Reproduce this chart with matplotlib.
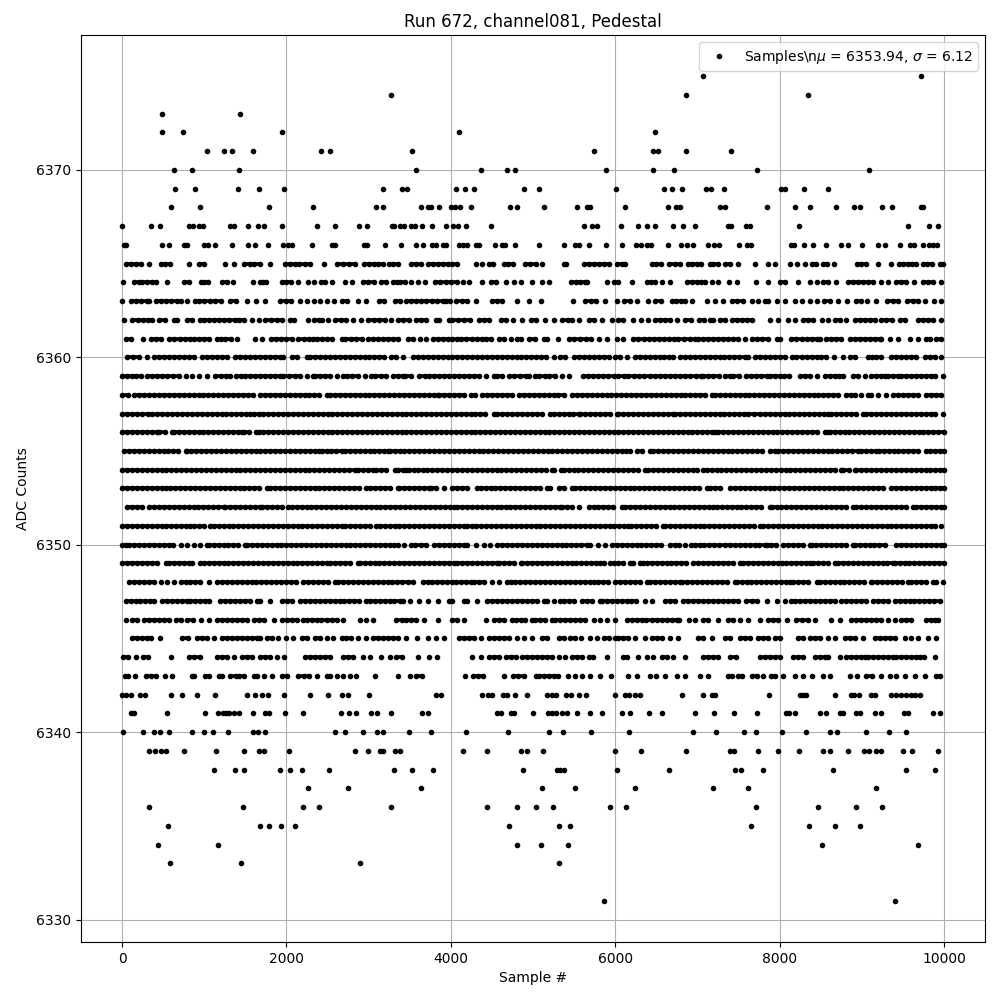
# -*- coding: utf-8 -*-
import numpy as np
import matplotlib
matplotlib.use("Agg")
import matplotlib.pyplot as plt

# sample numbers per ADC level
# rows above 6365 and below 6343 are single dots, the rows between overlap
# so there the values are estimates that follow the visible runs and gaps
adc_6375 = [7065, 9726]
adc_6374 = [3272, 6859, 8341]
adc_6373 = [485, 1430]
adc_6372 = [485, 739, 1951, 4097, 6482]
adc_6371 = [1030, 1236, 1333, 1588, 2424, 2533, 3527, 5741, 6458, 6518, 6859, 7405]
adc_6370 = [630, 848, 1418, 3575, 4363, 4678, 4775, 5887, 6458, 6713, 7721, 9094]
adc_6369 = [642, 885, 1406, 1660, 1976, 3175, 3406, 3466, 4060, 4177, 4278, 4896, 5073, 6008, 6591, 6688, 6810, 7101, 7162, 7320, 8021, 8069, 8292, 8584]
adc_6368 = [594, 945, 1782, 2327, 3091, 3175, 3636, 3721, 3757, 3854, 4000, 4048, 4109, 4242, 4715, 4800, 5134, 5534, 5656, 5692, 6117, 6640, 6737, 6786, 7272, 7332, 7843, 8183, 8365, 8681, 8912, 8985, 9252, 9374, 9726, 9742]
adc_6367 = [0, 351, 461, 812, 860, 933, 982, 1317, 1366, 1527, 1648, 1721, 1951, 2375, 2594, 2885, 2982, 3285, 3309, 3382, 3430, 3515, 3563, 3648, 3770, 3939, 4024, 4084, 4182, 4484, 5619, 5716, 5777, 6069, 6275, 6385, 6490, 6701, 6822, 6968, 7369, 7405, 7588, 7636, 8232, 9568, 9823, 9933]
adc_6366 = [24, 48, 485, 570, 751, 788, 994, 1042, 1127, 1333, 1527, 1612, 1770, 1964, 2024, 2073, 2315, 2557, 2590, 2945, 2982, 3200, 3394, 3575, 3660, 3770, 3818, 3903, 3939, 4097, 4145, 4194, 4303, 4339, 4537, 4622, 4658, 4787, 5073, 5377, 5510, 5559, 5680, 5887, 6081, 6251, 6312, 6385, 6433, 6640, 6798, 6871, 6944, 7126, 7199, 7260, 7503, 7600, 7648, 8134, 8171, 8292, 8402, 8560, 8742, 8827, 9009, 9203, 9288, 9470, 9592, 9640, 9750, 9823, 9872, 9920]
adc_6365 = [44, 105, 166, 226, 323, 469, 525, 582, 820, 933, 1002, 1256, 1357, 1479, 1551, 1608, 1673, 1794, 1984, 2045, 2105, 2154, 2226, 2291, 2460, 2618, 2690, 2760, 2832, 2941, 3000, 3060, 3115, 3175, 3248, 3300, 3357, 3519, 3580, 3640, 3721, 3780, 3840, 3900, 3960, 4020, 4080, 4307, 4380, 4468, 4517, 4650, 4699, 4751, 4900, 4965, 5035, 5109, 5372, 5405, 5615, 5680, 5740, 5800, 5860, 5920, 6020, 6080, 6120, 6445, 6500, 6555, 6660, 6730, 6790, 6883, 6930, 6992, 7045, 7154, 7195, 7255, 7336, 7397, 7500, 7700, 7863, 7944, 8126, 8211, 8308, 8390, 8438, 8531, 8572, 8657, 8948, 8997, 9058, 9192, 9362, 9451, 9503, 9564, 9612, 9657, 9746, 9799, 9860, 9949, 9989]
adc_6364 = [16, 145, 210, 246, 307, 360, 408, 545, 751, 820, 962, 1002, 1042, 1216, 1277, 1353, 1588, 1673, 1715, 1753, 1943, 2000, 2060, 2145, 2266, 2340, 2420, 2468, 2549, 2715, 2796, 2933, 2994, 3062, 3155, 3216, 3297, 3340, 3377, 3442, 3519, 3600, 3680, 3802, 3870, 3940, 4000, 4070, 4145, 4226, 4380, 4489, 4549, 4670, 4767, 4856, 4985, 5109, 5198, 5465, 5520, 5575, 5630, 5656, 5899, 5980, 6032, 6202, 6385, 6440, 6490, 6567, 6668, 6870, 6930, 6990, 7050, 7090, 7175, 7255, 7389, 7478, 7713, 7855, 8005, 8065, 8219, 8369, 8450, 8530, 8592, 8681, 8835, 8890, 8950, 9010, 9078, 9139, 9240, 9321, 9422, 9480, 9543, 9633, 9746, 9810, 9870, 9961]
adc_6363 = [0, 105, 170, 235, 300, 327, 408, 470, 530, 600, 670, 711, 790, 893, 933, 1000, 1070, 1135, 1204, 1317, 1380, 1519, 1632, 1741, 1923, 1990, 2060, 2165, 2246, 2335, 2410, 2489, 2578, 2670, 2740, 2872, 2974, 3127, 3192, 3325, 3382, 3455, 3515, 3575, 3640, 3700, 3770, 3830, 3900, 3940, 3988, 4061, 4130, 4200, 4311, 4505, 4565, 4626, 4808, 4953, 5095, 5487, 5636, 5700, 5770, 5880, 6020, 6109, 6180, 6262, 6400, 6490, 6557, 6687, 6736, 6800, 6850, 6939, 7113, 7214, 7316, 7417, 7478, 7550, 7660, 7740, 7822, 7862, 7964, 8065, 8194, 8275, 8369, 8461, 8543, 8611, 8713, 8826, 8936, 8988, 9061, 9178, 9312, 9380, 9442, 9555, 9620, 9680, 9766, 9875, 9968]
adc_6362 = [24, 125, 190, 250, 310, 368, 450, 520, 630, 670, 790, 850, 950, 1000, 1060, 1120, 1180, 1240, 1300, 1370, 1420, 1480, 1580, 1660, 1740, 1810, 1880, 1940, 2040, 2097, 2266, 2340, 2390, 2436, 2509, 2590, 2660, 2730, 2810, 2913, 2994, 3060, 3130, 3195, 3276, 3360, 3420, 3490, 3575, 3636, 3700, 3818, 3860, 3980, 4020, 4090, 4160, 4230, 4343, 4400, 4465, 4606, 4667, 4756, 4869, 4970, 5040, 5151, 5252, 5353, 5420, 5480, 5560, 5677, 5737, 5838, 5960, 6040, 6100, 6222, 6311, 6404, 6485, 6545, 6610, 6670, 6750, 6853, 6920, 7015, 7075, 7150, 7194, 7275, 7336, 7417, 7480, 7540, 7600, 7660, 7883, 7984, 8105, 8186, 8290, 8352, 8410, 8518, 8591, 8672, 8740, 8814, 8915, 8980, 9040, 9100, 9160, 9240, 9300, 9369, 9460, 9523, 9685, 9750, 9810, 9870, 9968]
adc_6361 = [44, 105, 255, 347, 410, 470, 570, 630, 700, 770, 832, 873, 940, 1000, 1060, 1155, 1204, 1256, 1320, 1398, 1620, 1700, 1810, 1870, 1930, 2000, 2064, 2145, 2210, 2270, 2327, 2367, 2430, 2490, 2560, 2670, 2711, 2780, 2850, 2920, 2994, 3054, 3115, 3175, 3240, 3300, 3360, 3478, 3535, 3620, 3700, 3780, 3840, 3900, 3960, 4020, 4081, 4121, 4190, 4260, 4320, 4384, 4424, 4485, 4586, 4646, 4727, 4808, 4848, 4950, 5020, 5131, 5171, 5300, 5434, 5500, 5570, 5640, 5700, 5799, 5899, 6020, 6100, 6222, 6283, 6345, 6410, 6470, 6530, 6590, 6650, 6710, 6770, 6840, 6910, 6971, 7010, 7073, 7130, 7190, 7250, 7310, 7370, 7430, 7490, 7579, 7660, 7720, 7790, 7862, 7964, 8004, 8134, 8206, 8270, 8330, 8390, 8450, 8490, 8571, 8632, 8690, 8750, 8854, 8915, 8980, 9040, 9100, 9160, 9219, 9239, 9340, 9442, 9584, 9685, 9786, 9827, 9908, 9968]
adc_6360 = [65, 130, 200, 307, 388, 450, 510, 570, 630, 690, 750, 810, 870, 974, 1034, 1095, 1160, 1216, 1277, 1378, 1440, 1500, 1560, 1620, 1680, 1741, 1800, 1860, 1923, 1964, 2064, 2130, 2246, 2287, 2350, 2410, 2470, 2530, 2590, 2650, 2710, 2770, 2830, 2890, 2950, 3010, 3070, 3130, 3190, 3276, 3337, 3420, 3535, 3600, 3660, 3720, 3780, 3840, 3900, 3960, 4020, 4080, 4140, 4200, 4260, 4320, 4380, 4440, 4500, 4560, 4620, 4680, 4740, 4800, 4860, 4920, 4980, 5040, 5100, 5160, 5252, 5333, 5394, 5495, 5560, 5620, 5680, 5740, 5800, 5860, 5920, 6000, 6060, 6140, 6242, 6300, 6360, 6420, 6480, 6540, 6600, 6660, 6700, 6790, 6853, 6910, 6970, 7030, 7090, 7150, 7210, 7270, 7330, 7390, 7450, 7510, 7579, 7620, 7700, 7760, 7822, 7883, 7950, 8010, 8070, 8146, 8206, 8270, 8330, 8390, 8450, 8510, 8571, 8660, 8774, 8855, 8915, 9077, 9130, 9178, 9239, 9361, 9420, 9480, 9540, 9604, 9665, 9766, 9830, 9890, 9968]
adc_6359 = [4, 60, 120, 170, 226, 307, 368, 430, 490, 550, 620, 691, 772, 850, 933, 1034, 1135, 1200, 1260, 1317, 1390, 1450, 1499, 1560, 1620, 1680, 1740, 1800, 1860, 1923, 1964, 2030, 2100, 2170, 2250, 2327, 2347, 2410, 2470, 2530, 2610, 2690, 2731, 2800, 2870, 2950, 3034, 3074, 3145, 3216, 3297, 3357, 3415, 3447, 3515, 3616, 3680, 3740, 3800, 3860, 3920, 3980, 4040, 4100, 4160, 4220, 4280, 4340, 4430, 4525, 4565, 4626, 4707, 4770, 4840, 4909, 4949, 5030, 5079, 5140, 5200, 5270, 5353, 5434, 5612, 5670, 5730, 5790, 5850, 5910, 5980, 6040, 6109, 6162, 6230, 6290, 6350, 6420, 6485, 6545, 6610, 6670, 6730, 6790, 6850, 6910, 6980, 7050, 7073, 7130, 7190, 7260, 7336, 7396, 7437, 7506, 7587, 7650, 7710, 7780, 7842, 7883, 7940, 8000, 8060, 8120, 8247, 8308, 8370, 8450, 8551, 8610, 8670, 8720, 8774, 8895, 8960, 9040, 9118, 9178, 9230, 9280, 9320, 9380, 9442, 9482, 9540, 9600, 9660, 9720, 9780, 9840, 9890, 9988]
adc_6358 = [0, 70, 150, 210, 270, 330, 390, 450, 510, 570, 630, 690, 750, 810, 870, 930, 990, 1050, 1110, 1170, 1230, 1290, 1350, 1410, 1470, 1530, 1590, 1680, 1741, 1800, 1860, 1920, 1980, 2040, 2100, 2160, 2220, 2280, 2340, 2400, 2490, 2530, 2590, 2650, 2710, 2770, 2830, 2890, 2950, 3010, 3070, 3130, 3190, 3250, 3310, 3370, 3430, 3490, 3550, 3610, 3670, 3730, 3790, 3838, 3860, 3920, 3980, 4040, 4100, 4160, 4242, 4291, 4384, 4445, 4505, 4565, 4625, 4685, 4747, 4828, 4890, 4950, 5010, 5070, 5130, 5190, 5250, 5310, 5373, 5475, 5535, 5595, 5655, 5715, 5775, 5835, 5895, 5955, 6015, 6075, 6135, 6195, 6255, 6315, 6375, 6435, 6495, 6555, 6615, 6675, 6735, 6795, 6855, 6915, 6975, 7035, 7095, 7174, 7214, 7274, 7334, 7394, 7454, 7514, 7574, 7634, 7694, 7754, 7814, 7874, 7934, 7994, 8054, 8114, 8174, 8234, 8294, 8354, 8414, 8474, 8534, 8591, 8652, 8712, 8814, 8875, 8915, 8996, 9077, 9118, 9199, 9300, 9381, 9440, 9503, 9563, 9623, 9683, 9786, 9847, 9908, 9968]
adc_6357 = [4, 65, 125, 186, 246, 310, 370, 430, 489, 550, 610, 670, 730, 790, 850, 910, 970, 1030, 1090, 1150, 1210, 1270, 1330, 1390, 1450, 1510, 1560, 1600, 1660, 1720, 1780, 1840, 1900, 1960, 2020, 2080, 2140, 2200, 2260, 2320, 2380, 2440, 2500, 2560, 2620, 2680, 2740, 2800, 2860, 2920, 2980, 3040, 3100, 3160, 3220, 3280, 3340, 3400, 3460, 3520, 3580, 3640, 3700, 3760, 3820, 3880, 3940, 4000, 4060, 4120, 4180, 4240, 4300, 4360, 4420, 4525, 4565, 4625, 4685, 4745, 4805, 4865, 4925, 4985, 5045, 5105, 5212, 5252, 5312, 5372, 5432, 5492, 5555, 5576, 5636, 5696, 5756, 5816, 5876, 5936, 6020, 6040, 6100, 6160, 6220, 6280, 6340, 6400, 6460, 6520, 6580, 6640, 6700, 6730, 6790, 6850, 6910, 6970, 7030, 7090, 7150, 7210, 7270, 7330, 7390, 7450, 7510, 7570, 7620, 7692, 7761, 7821, 7881, 7941, 8001, 8061, 8121, 8181, 8241, 8301, 8361, 8421, 8481, 8541, 8591, 8632, 8692, 8752, 8812, 8872, 8932, 9017, 9057, 9117, 9177, 9237, 9297, 9357, 9417, 9477, 9537, 9597, 9657, 9717, 9777, 9837, 9897, 9988]
adc_6356 = [0, 60, 120, 180, 240, 300, 360, 428, 450, 520, 610, 630, 690, 750, 810, 870, 930, 990, 1050, 1110, 1170, 1230, 1290, 1350, 1410, 1458, 1480, 1550, 1632, 1660, 1720, 1780, 1840, 1900, 1960, 2020, 2080, 2140, 2200, 2260, 2320, 2380, 2440, 2500, 2560, 2620, 2680, 2740, 2800, 2860, 2920, 2980, 3040, 3100, 3160, 3220, 3280, 3340, 3400, 3460, 3520, 3580, 3640, 3700, 3760, 3820, 3880, 3940, 4000, 4060, 4120, 4180, 4240, 4300, 4360, 4420, 4480, 4540, 4600, 4660, 4720, 4780, 4840, 4900, 4960, 5020, 5080, 5140, 5200, 5260, 5320, 5380, 5440, 5500, 5560, 5620, 5680, 5740, 5800, 5860, 5920, 5980, 6040, 6100, 6160, 6220, 6280, 6340, 6400, 6460, 6520, 6580, 6640, 6700, 6760, 6820, 6880, 6940, 7000, 7060, 7120, 7174, 7214, 7255, 7315, 7375, 7435, 7495, 7555, 7615, 7675, 7735, 7795, 7855, 7915, 7975, 8035, 8095, 8155, 8215, 8275, 8335, 8395, 8455, 8551, 8591, 8611, 8671, 8731, 8791, 8851, 8911, 8971, 9031, 9091, 9151, 9211, 9271, 9331, 9391, 9451, 9511, 9571, 9631, 9691, 9751, 9811, 9871, 9931, 9998]
adc_6355 = [24, 84, 144, 204, 264, 324, 384, 444, 504, 564, 624, 684, 772, 784, 844, 904, 964, 1024, 1084, 1144, 1204, 1264, 1324, 1384, 1444, 1504, 1564, 1624, 1684, 1744, 1804, 1864, 1924, 1984, 2044, 2104, 2164, 2224, 2284, 2344, 2390, 2428, 2488, 2548, 2608, 2670, 2711, 2771, 2831, 2891, 2951, 3011, 3071, 3131, 3191, 3236, 3256, 3316, 3376, 3436, 3496, 3556, 3616, 3677, 3737, 3797, 3857, 3917, 3977, 4037, 4097, 4157, 4217, 4277, 4337, 4397, 4457, 4517, 4577, 4637, 4697, 4757, 4817, 4877, 4937, 4997, 5057, 5117, 5177, 5237, 5297, 5357, 5417, 5477, 5537, 5597, 5657, 5717, 5777, 5837, 5897, 5957, 6017, 6077, 6137, 6182, 6262, 6330, 6424, 6465, 6525, 6585, 6645, 6705, 6767, 6827, 6887, 6947, 7007, 7067, 7127, 7187, 7247, 7307, 7367, 7427, 7487, 7547, 7607, 7667, 7727, 7787, 7883, 7940, 7984, 8044, 8104, 8164, 8224, 8284, 8344, 8404, 8464, 8524, 8584, 8644, 8704, 8764, 8824, 8884, 8956, 8996, 9056, 9116, 9178, 9207, 9267, 9327, 9387, 9447, 9507, 9567, 9627, 9687, 9786, 9827, 9887, 9947, 10000]
adc_6354 = [0, 60, 120, 180, 240, 300, 360, 420, 480, 540, 600, 660, 720, 780, 840, 900, 960, 1020, 1080, 1140, 1200, 1260, 1320, 1380, 1440, 1500, 1560, 1620, 1680, 1740, 1800, 1860, 1920, 1980, 2040, 2100, 2160, 2220, 2280, 2340, 2400, 2460, 2520, 2580, 2640, 2700, 2760, 2830, 2872, 2932, 2992, 3054, 3095, 3155, 3215, 3316, 3357, 3420, 3455, 3495, 3556, 3596, 3656, 3716, 3776, 3836, 3896, 3956, 4016, 4076, 4136, 4196, 4256, 4316, 4376, 4436, 4496, 4556, 4616, 4676, 4736, 4796, 4856, 4916, 4976, 5036, 5096, 5156, 5232, 5260, 5345, 5373, 5433, 5493, 5553, 5613, 5673, 5733, 5793, 5853, 5913, 5973, 6033, 6093, 6153, 6213, 6273, 6363, 6404, 6464, 6524, 6584, 6644, 6704, 6767, 6827, 6887, 6950, 6991, 7073, 7113, 7173, 7233, 7293, 7353, 7413, 7473, 7533, 7593, 7653, 7713, 7773, 7833, 7893, 7953, 8013, 8073, 8133, 8193, 8253, 8313, 8373, 8433, 8493, 8553, 8613, 8673, 8753, 8774, 8840, 8915, 8936, 8996, 9056, 9116, 9176, 9236, 9296, 9356, 9416, 9476, 9536, 9596, 9656, 9716, 9776, 9836, 9896, 9956, 9998]
adc_6353 = [0, 60, 120, 180, 240, 300, 360, 420, 489, 529, 589, 649, 709, 769, 829, 889, 949, 1009, 1069, 1129, 1189, 1249, 1309, 1369, 1429, 1489, 1549, 1609, 1669, 1761, 1802, 1862, 1922, 1982, 2042, 2102, 2162, 2222, 2282, 2342, 2402, 2462, 2522, 2582, 2642, 2702, 2762, 2822, 2882, 2973, 3014, 3074, 3134, 3194, 3254, 3354, 3374, 3434, 3494, 3554, 3614, 3674, 3737, 3758, 3818, 3919, 4012, 4081, 4141, 4201, 4323, 4363, 4423, 4483, 4543, 4603, 4663, 4723, 4783, 4843, 4903, 4963, 5023, 5083, 5172, 5212, 5313, 5373, 5474, 5515, 5575, 5635, 5695, 5755, 5815, 5875, 5935, 5995, 6055, 6115, 6175, 6235, 6295, 6355, 6415, 6475, 6535, 6595, 6655, 6715, 6775, 6835, 6895, 6955, 7015, 7113, 7154, 7214, 7274, 7397, 7458, 7518, 7578, 7638, 7698, 7758, 7818, 7878, 7938, 7998, 8058, 8118, 8178, 8238, 8298, 8358, 8418, 8478, 8538, 8598, 8658, 8718, 8778, 8838, 8898, 8958, 9018, 9078, 9138, 9198, 9258, 9361, 9421, 9481, 9541, 9601, 9661, 9721, 9781, 9841, 9887, 9948, 10000]
adc_6352 = [65, 125, 185, 245, 327, 388, 448, 509, 569, 629, 689, 749, 809, 869, 929, 989, 1049, 1109, 1169, 1236, 1256, 1316, 1376, 1436, 1496, 1556, 1616, 1680, 1700, 1760, 1820, 1880, 1940, 2024, 2064, 2124, 2184, 2244, 2304, 2364, 2424, 2484, 2544, 2604, 2664, 2724, 2784, 2844, 2904, 2964, 3024, 3084, 3144, 3204, 3264, 3324, 3384, 3444, 3504, 3564, 3624, 3684, 3744, 3804, 3864, 3924, 3984, 4040, 4081, 4141, 4201, 4261, 4321, 4381, 4441, 4501, 4566, 4606, 4666, 4726, 4786, 4846, 4906, 4966, 5026, 5086, 5146, 5206, 5266, 5333, 5353, 5413, 5473, 5555, 5677, 5737, 5797, 5857, 5917, 5977, 6081, 6121, 6181, 6241, 6301, 6361, 6421, 6481, 6541, 6601, 6661, 6721, 6780, 6840, 6900, 6960, 7020, 7080, 7140, 7194, 7235, 7295, 7357, 7417, 7477, 7537, 7597, 7657, 7717, 7777, 7883, 7903, 7963, 8023, 8083, 8143, 8203, 8263, 8323, 8383, 8443, 8503, 8563, 8623, 8683, 8743, 8803, 8895, 8936, 8996, 9056, 9116, 9176, 9236, 9296, 9356, 9416, 9476, 9536, 9624, 9665, 9725, 9785, 9845, 9905, 9965, 10000]
adc_6351 = [0, 60, 120, 180, 240, 300, 360, 420, 480, 540, 600, 660, 720, 780, 832, 873, 933, 1000, 1075, 1115, 1175, 1235, 1295, 1355, 1415, 1475, 1535, 1595, 1655, 1715, 1775, 1835, 1895, 1955, 2015, 2075, 2135, 2195, 2255, 2315, 2375, 2435, 2495, 2555, 2615, 2670, 2711, 2771, 2831, 2891, 2951, 3011, 3095, 3135, 3195, 3255, 3315, 3375, 3435, 3495, 3555, 3615, 3675, 3735, 3795, 3855, 3915, 3975, 4035, 4095, 4162, 4202, 4263, 4311, 4371, 4431, 4491, 4551, 4611, 4671, 4731, 4791, 4851, 4911, 4971, 5031, 5091, 5151, 5211, 5271, 5331, 5391, 5451, 5511, 5571, 5631, 5691, 5751, 5811, 5871, 5931, 5991, 6051, 6111, 6162, 6194, 6254, 6314, 6374, 6434, 6494, 6586, 6606, 6666, 6726, 6786, 6846, 6906, 6966, 7026, 7086, 7146, 7206, 7266, 7326, 7386, 7446, 7506, 7566, 7626, 7686, 7761, 7802, 7862, 7922, 7982, 8042, 8102, 8162, 8222, 8282, 8342, 8402, 8462, 8522, 8582, 8642, 8702, 8762, 8822, 8882, 8942, 9002, 9062, 9122, 9182, 9242, 9302, 9362, 9422, 9482, 9542, 9602, 9662, 9722, 9782, 9847, 9887, 9968]
adc_6350 = [0, 44, 85, 145, 205, 265, 325, 385, 445, 505, 565, 625, 711, 784, 873, 950, 1034, 1054, 1114, 1174, 1234, 1294, 1354, 1414, 1499, 1519, 1579, 1639, 1699, 1759, 1819, 1879, 1939, 1999, 2059, 2119, 2179, 2239, 2299, 2359, 2419, 2479, 2539, 2599, 2659, 2719, 2779, 2839, 2899, 2959, 3019, 3079, 3139, 3199, 3259, 3313, 3354, 3430, 3515, 3568, 3640, 3697, 3798, 3858, 3918, 3978, 4038, 4098, 4162, 4194, 4311, 4404, 4480, 4566, 4626, 4687, 4747, 4807, 4867, 4927, 4987, 5047, 5107, 5167, 5227, 5287, 5347, 5407, 5467, 5527, 5587, 5656, 5697, 5790, 5879, 5960, 6020, 6080, 6140, 6200, 6260, 6320, 6380, 6440, 6500, 6560, 6667, 6727, 6771, 6850, 6925, 6966, 7026, 7086, 7146, 7206, 7266, 7336, 7396, 7456, 7516, 7576, 7636, 7696, 7756, 7822, 7842, 7902, 7962, 8045, 8105, 8165, 8225, 8285, 8369, 8389, 8449, 8509, 8569, 8629, 8689, 8749, 8809, 8895, 8915, 8975, 9035, 9095, 9155, 9215, 9280, 9421, 9481, 9541, 9601, 9661, 9721, 9781, 9841, 9901, 9961, 10000]
adc_6349 = [4, 64, 124, 184, 244, 304, 364, 424, 533, 570, 630, 690, 750, 812, 852, 953, 994, 1054, 1114, 1174, 1234, 1294, 1354, 1414, 1474, 1534, 1594, 1654, 1714, 1774, 1834, 1894, 1954, 2014, 2074, 2134, 2194, 2254, 2314, 2374, 2434, 2489, 2530, 2590, 2650, 2710, 2770, 2872, 2892, 2952, 3012, 3072, 3132, 3192, 3252, 3312, 3372, 3432, 3492, 3556, 3616, 3676, 3736, 3796, 3856, 3916, 3976, 4036, 4081, 4141, 4201, 4261, 4321, 4381, 4441, 4501, 4566, 4586, 4646, 4706, 4766, 4848, 4869, 4929, 4989, 5049, 5109, 5169, 5229, 5289, 5349, 5409, 5469, 5529, 5589, 5649, 5709, 5769, 5818, 5859, 5939, 5980, 6040, 6100, 6182, 6222, 6303, 6343, 6384, 6444, 6505, 6565, 6625, 6685, 6745, 6805, 6865, 6950, 7012, 7072, 7132, 7192, 7252, 7312, 7372, 7432, 7518, 7559, 7619, 7679, 7739, 7799, 7859, 7919, 7984, 8024, 8084, 8144, 8204, 8264, 8324, 8369, 8410, 8470, 8530, 8590, 8672, 8713, 8773, 8833, 8893, 8953, 9013, 9073, 9133, 9193, 9253, 9313, 9381, 9401, 9461, 9521, 9581, 9641, 9701, 9761, 9821, 9881, 9941, 10000]
adc_6348 = [85, 145, 205, 265, 325, 385, 469, 550, 630, 711, 772, 832, 892, 952, 1054, 1155, 1215, 1275, 1335, 1395, 1455, 1515, 1575, 1635, 1695, 1755, 1815, 1875, 1935, 1995, 2055, 2115, 2206, 2266, 2326, 2386, 2446, 2506, 2590, 2630, 2690, 2750, 2810, 2870, 2930, 2990, 3050, 3110, 3170, 3230, 3290, 3350, 3410, 3475, 3535, 3657, 3717, 3777, 3837, 3897, 3957, 4020, 4061, 4121, 4181, 4242, 4283, 4343, 4403, 4505, 4586, 4687, 4727, 4787, 4847, 4907, 4967, 5030, 5090, 5150, 5210, 5270, 5330, 5390, 5450, 5510, 5570, 5630, 5697, 5737, 5797, 5857, 5917, 6000, 6061, 6121, 6181, 6241, 6301, 6384, 6424, 6484, 6544, 6604, 6664, 6724, 6790, 6817, 6877, 6937, 6997, 7057, 7117, 7177, 7237, 7297, 7357, 7457, 7478, 7538, 7598, 7658, 7718, 7778, 7838, 7898, 7958, 8018, 8078, 8125, 8166, 8226, 8286, 8346, 8450, 8490, 8550, 8610, 8670, 8730, 8790, 8850, 8910, 8970, 9030, 9118, 9126, 9186, 9246, 9306, 9366, 9426, 9486, 9564, 9604, 9664, 9724, 9784, 9867, 9908, 9988]
adc_6347 = [44, 104, 164, 224, 284, 344, 388, 489, 550, 610, 670, 730, 790, 832, 893, 950, 1014, 1054, 1196, 1256, 1316, 1376, 1436, 1496, 1556, 1640, 1673, 1794, 1943, 2003, 2063, 2165, 2226, 2286, 2346, 2406, 2466, 2526, 2586, 2646, 2706, 2766, 2826, 2886, 2973, 3014, 3074, 3134, 3194, 3254, 3314, 3380, 3414, 3503, 3616, 3717, 3838, 3972, 4020, 4162, 4202, 4323, 4444, 4504, 4564, 4624, 4684, 4744, 4808, 4869, 4929, 4989, 5049, 5131, 5172, 5252, 5333, 5373, 5433, 5493, 5595, 5656, 5716, 5818, 5838, 5898, 5958, 6018, 6078, 6138, 6198, 6258, 6364, 6444, 6606, 6666, 6730, 6830, 6882, 6950, 7012, 7073, 7133, 7193, 7253, 7313, 7373, 7433, 7498, 7591, 7660, 7720, 7842, 7964, 8065, 8138, 8186, 8246, 8306, 8369, 8429, 8489, 8549, 8609, 8669, 8753, 8814, 8875, 8936, 8996, 9056, 9138, 9198, 9258, 9318, 9401, 9462, 9522, 9582, 9642, 9702, 9762, 9822, 9882, 9948]
adc_6346 = [44, 125, 186, 267, 327, 387, 447, 507, 567, 650, 711, 792, 860, 958, 1054, 1155, 1216, 1276, 1336, 1396, 1456, 1519, 1600, 1660, 1721, 1854, 1943, 2003, 2063, 2123, 2206, 2246, 2306, 2366, 2426, 2489, 2549, 2610, 2690, 2892, 2973, 3054, 3337, 3400, 3460, 3520, 3580, 3677, 3850, 4020, 4080, 4162, 4424, 4525, 4585, 4645, 4747, 4788, 4848, 4908, 4990, 5030, 5090, 5150, 5232, 5272, 5332, 5392, 5452, 5512, 5572, 5636, 5737, 5818, 5899, 6000, 6141, 6201, 6261, 6321, 6381, 6444, 6505, 6565, 6625, 6687, 6747, 6771, 6893, 6975, 7073, 7134, 7255, 7376, 7437, 7518, 7620, 7761, 7862, 7922, 7982, 8085, 8206, 8276, 8348, 8429, 8632, 8734, 8875, 8935, 8995, 9055, 9115, 9175, 9235, 9320, 9401, 9482, 9542, 9604, 9786, 9840, 9887, 9928]
adc_6345 = [125, 185, 246, 299, 355, 461, 731, 800, 913, 974, 1034, 1115, 1216, 1277, 1337, 1397, 1457, 1517, 1577, 1637, 1680, 1761, 1821, 1903, 1996, 2085, 2186, 2246, 2347, 2408, 2490, 2570, 2670, 2730, 2790, 2872, 2965, 3054, 3114, 3174, 3234, 3294, 3354, 3455, 3584, 3717, 3818, 3911, 4101, 4161, 4221, 4281, 4364, 4465, 4525, 4585, 4645, 4707, 4808, 4889, 4990, 5111, 5171, 5313, 5373, 5454, 5507, 5588, 5697, 5778, 5859, 5919, 6000, 6040, 6100, 6160, 6242, 6363, 6444, 6505, 6565, 6666, 6767, 7012, 7072, 7174, 7336, 7397, 7518, 7580, 7640, 7741, 7801, 7861, 7943, 8004, 8227, 8288, 8369, 8430, 8490, 8591, 8680, 8794, 8854, 8914, 9017, 9158, 9218, 9278, 9338, 9401, 9523, 9600, 9685, 9806, 9908]
adc_6344 = [16, 73, 166, 255, 315, 590, 812, 873, 945, 1155, 1215, 1275, 1357, 1458, 1520, 1580, 1680, 1740, 1800, 1883, 1972, 2226, 2286, 2346, 2406, 2466, 2529, 2690, 2750, 2812, 2933, 3022, 3155, 3256, 3329, 3400, 3596, 3737, 3830, 4255, 4364, 4465, 4525, 4586, 4667, 4727, 4788, 4869, 4929, 4989, 5049, 5109, 5169, 5229, 5313, 5394, 5474, 5534, 5594, 5677, 5725, 5899, 6101, 6141, 6283, 6384, 6465, 6565, 6625, 6707, 6852, 7073, 7134, 7194, 7255, 7396, 7465, 7761, 7821, 7881, 7941, 8004, 8166, 8226, 8288, 8429, 8489, 8549, 8591, 8733, 8814, 8874, 8934, 8994, 9037, 9077, 9137, 9197, 9257, 9317, 9377, 9421, 9482, 9542, 9602, 9662, 9705, 9754, 9895]
adc_6343 = [32, 73, 153, 287, 347, 412, 521, 606, 852, 873, 1006, 1058, 1176, 1216, 1317, 1380, 1418, 1479, 1600, 1640, 1721, 1830, 1943, 2004, 2145, 2210, 2275, 2367, 2489, 2529, 2610, 2690, 2771, 2852, 3078, 3357, 3498, 3580, 3648, 4169, 4266, 4330, 4387, 4650, 4751, 4820, 4892, 5034, 5070, 5130, 5190, 5250, 5307, 5429, 5510, 5595, 5688, 5810, 5947, 6162, 6263, 6425, 6500, 6608, 6749, 6850, 7033, 7134, 7377, 7417, 7490, 7539, 7660, 7722, 7802, 7900, 7944, 8037, 8187, 8288, 8389, 8531, 8612, 8855, 8948, 9058, 9130, 9240, 9341, 9422, 9523, 9644, 9766, 9908, 9949]
adc_6342 = [0, 48, 109, 218, 279, 594, 727, 909, 1127, 1515, 1612, 1697, 1770, 1976, 2291, 2509, 2679, 2751, 3006, 3818, 3878, 4375, 4452, 4500, 4634, 4683, 4780, 4921, 5170, 5231, 5280, 5401, 5462, 5559, 5644, 5996, 6117, 6166, 6239, 6300, 6810, 7065, 7174, 7211, 7867, 8251, 8288, 8324, 8669, 8864, 8912, 8961, 9118, 9167, 9361, 9422, 9483, 9544, 9605, 9653, 9714]
adc_6341 = [109, 145, 545, 1006, 1164, 1224, 1261, 1297, 1358, 1418, 1588, 1745, 1782, 1988, 2206, 2666, 2763, 2848, 3030, 3099, 3272, 3648, 3721, 4557, 4606, 4727, 4763, 5000, 5183, 5232, 5280, 5353, 5413, 5534, 5692, 5838, 6081, 6178, 6409, 6567, 6968, 7199, 7442, 7721, 8073, 8109, 8182, 8498, 8570, 8741, 8777, 8936, 8985, 9167, 9240, 9520, 9568, 9863, 9948]
adc_6340 = [12, 255, 388, 461, 570, 848, 994, 1103, 1285, 1588, 1648, 1733, 2594, 2715, 2933, 3103, 3175, 3491, 3757, 4182, 4691, 5194, 5364, 5704, 6166, 6943, 7223, 7563, 7709, 8024, 8316, 8620, 8705, 9057, 9333, 9540]
adc_6339 = [327, 400, 473, 533, 751, 1139, 1479, 1660, 1721, 2036, 2836, 2994, 3139, 3175, 3321, 3382, 4145, 4436, 4848, 4933, 5121, 5996, 6312, 6859, 7393, 7442, 7733, 7976, 8232, 8523, 8608, 8839, 9033, 9094, 9179, 9240, 9507, 9616, 9932]
adc_6338 = [1115, 1370, 1479, 1927, 2048, 2194, 2521, 3309, 3527, 3782, 4873, 5291, 5328, 5377, 6020, 6652, 7454, 7527, 7794, 8645, 9544, 9896]
adc_6337 = [2267, 2751, 3636, 5109, 5510, 6239, 7187, 7612, 9174]
adc_6336 = [327, 1467, 2206, 2400, 3272, 4436, 4800, 5036, 5243, 5935, 6130, 7709, 8463, 8925, 9252]
adc_6335 = [558, 1673, 1782, 1939, 2109, 4703, 5316, 5450, 7648, 8353, 8669, 8973]
adc_6334 = [436, 1164, 4800, 5097, 5425, 8511, 9690]
adc_6333 = [582, 1442, 2897, 5316]
adc_6331 = [5862, 9410]

levels = [6375, 6374, 6373, 6372, 6371, 6370, 6369, 6368, 6367, 6366, 6365, 6364, 6363, 6362, 6361, 6360,
          6359, 6358, 6357, 6356, 6355, 6354, 6353, 6352, 6351, 6350, 6349, 6348, 6347, 6346, 6345, 6344,
          6343, 6342, 6341, 6340, 6339, 6338, 6337, 6336, 6335, 6334, 6333, 6331]
rows = [adc_6375, adc_6374, adc_6373, adc_6372, adc_6371, adc_6370, adc_6369, adc_6368, adc_6367, adc_6366,
        adc_6365, adc_6364, adc_6363, adc_6362, adc_6361, adc_6360, adc_6359, adc_6358, adc_6357, adc_6356,
        adc_6355, adc_6354, adc_6353, adc_6352, adc_6351, adc_6350, adc_6349, adc_6348, adc_6347, adc_6346,
        adc_6345, adc_6344, adc_6343, adc_6342, adc_6341, adc_6340, adc_6339, adc_6338, adc_6337, adc_6336,
        adc_6335, adc_6334, adc_6333, adc_6331]

mean_adc = 6353.94
std_adc = 6.12

sample_no = np.concatenate([np.array(r) for r in rows])
adc_counts = np.concatenate([np.full(len(r), lev) for lev, r in zip(levels, rows)])

fig, ax = plt.subplots(figsize=(10, 10))
ax.plot(sample_no, adc_counts, "k.", label=f"Samples\\n$\\mu$ = {mean_adc:.2f}, $\\sigma$ = {std_adc:.2f}")

# the listed dots are fewer than the real samples, so close the small gaps
# between neighbours in the dense rows to get the solid runs of the original
for lev, r in zip(levels, rows):
    if 6343 <= lev <= 6365:
        xs = np.array(r)
        close = np.diff(xs) <= 72
        ax.hlines(np.full(close.sum(), lev), xs[:-1][close], xs[1:][close], colors="k", lw=2.6, zorder=2)

ax.set_title("Run 672, channel081, Pedestal")
ax.set_xlabel("Sample #")
ax.set_ylabel("ADC Counts")
ax.legend(loc="upper right")
ax.grid()
fig.subplots_adjust(left=0.081, right=0.985, bottom=0.058, top=0.965)
fig.savefig("out.png", dpi=100)
